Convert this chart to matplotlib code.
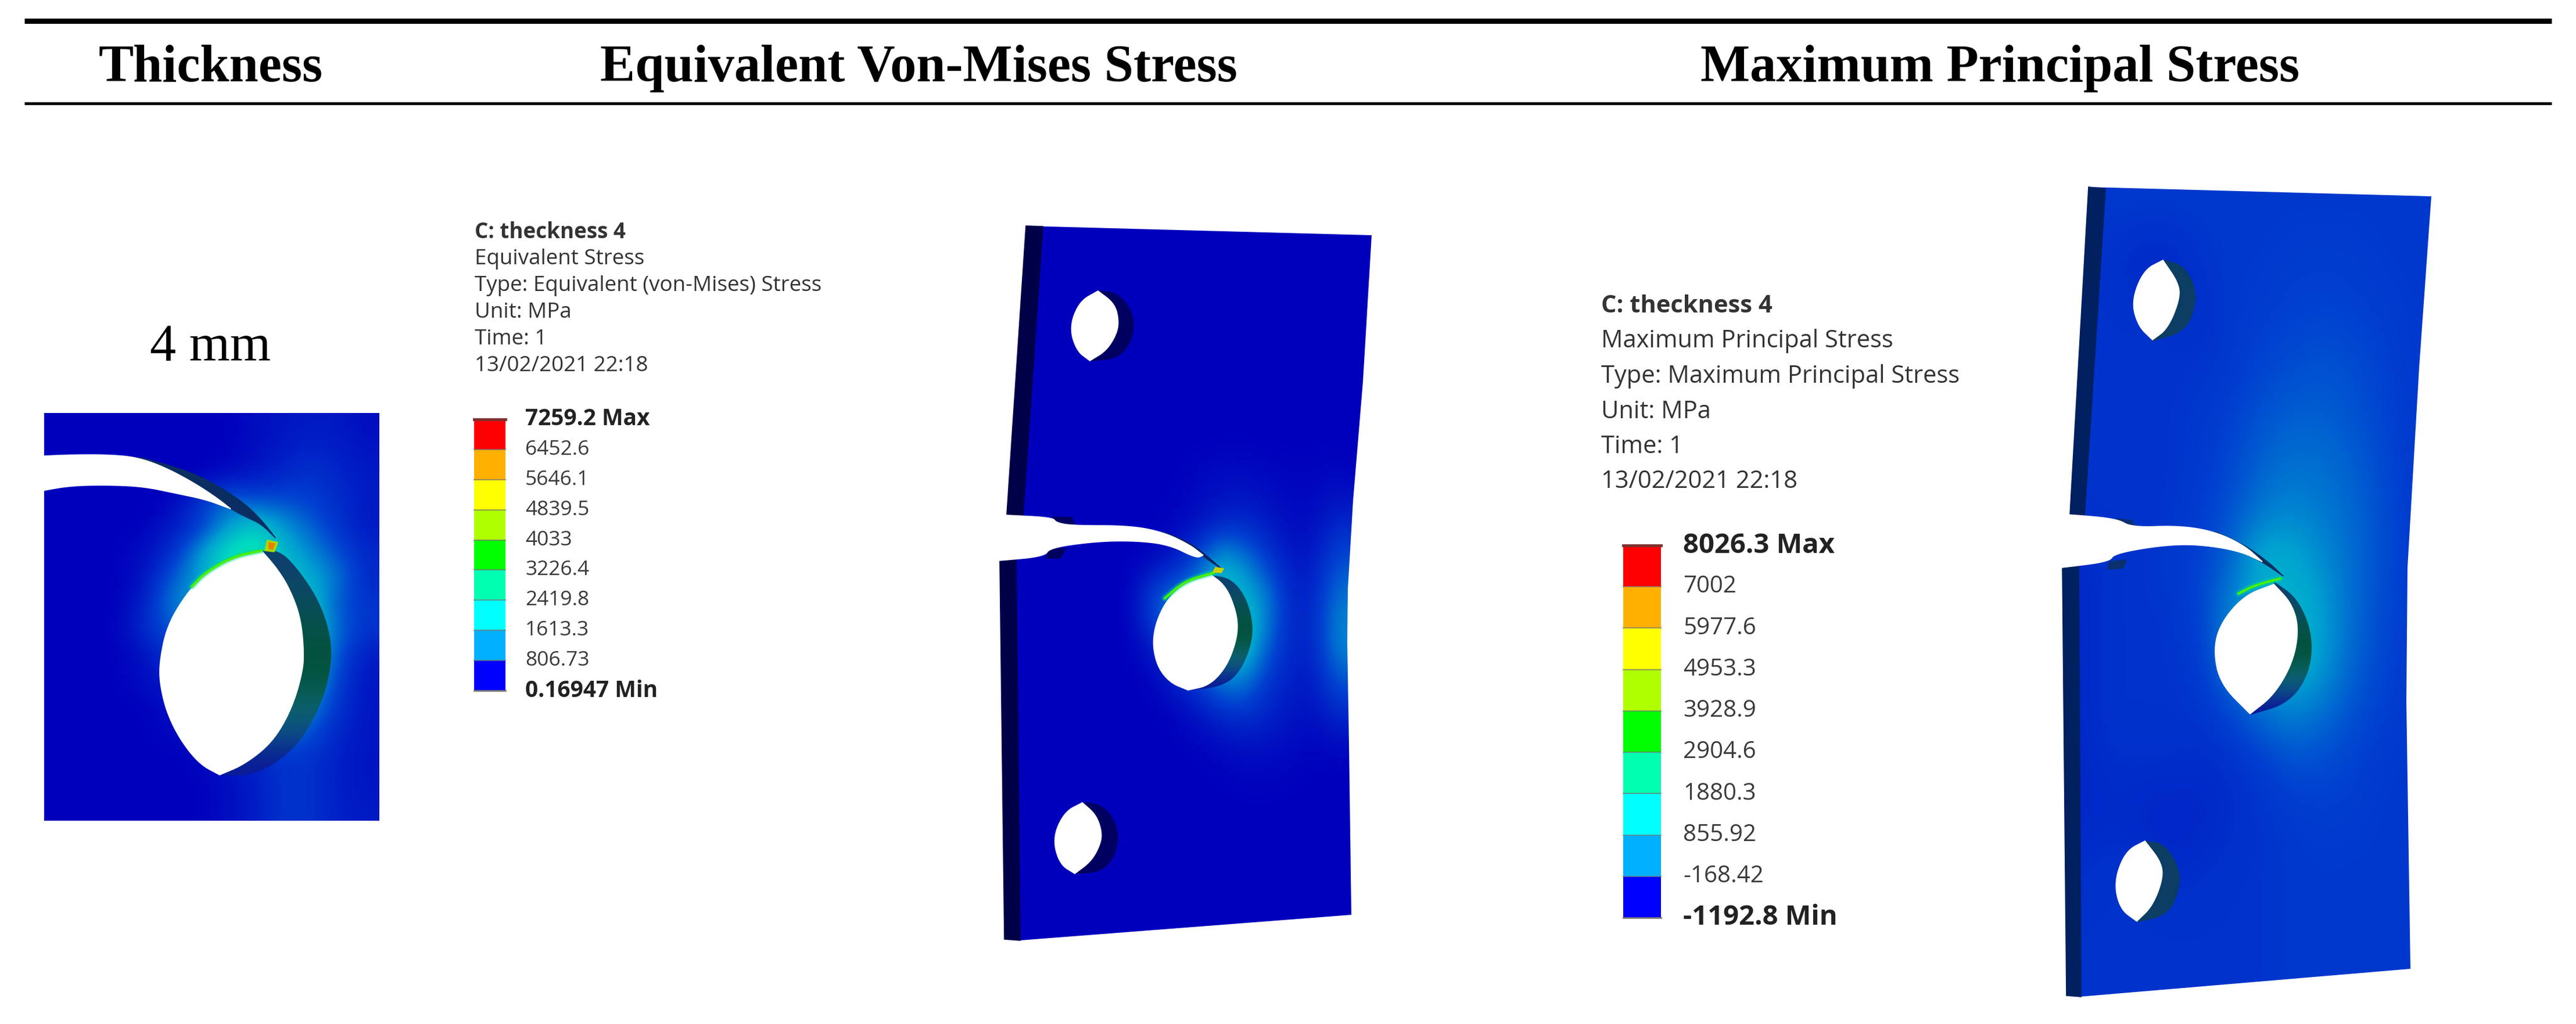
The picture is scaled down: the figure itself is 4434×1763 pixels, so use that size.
import matplotlib
matplotlib.use("Agg")
import matplotlib.pyplot as plt
import numpy as np
from matplotlib.colors import LinearSegmentedColormap, to_rgb
from matplotlib.patches import Polygon

# table text
headers = ["Thickness", "Equivalent Von-Mises Stress", "Maximum Principal Stress"]
header_x = [363, 1581, 3443]
thickness_label = "4 mm"

# contour legends
vm_info = ["C: theckness 4", "Equivalent Stress", "Type: Equivalent (von-Mises) Stress",
           "Unit: MPa", "Time: 1", "13/02/2021 22:18"]
vm_ticks = ["7259.2 Max", "6452.6", "5646.1", "4839.5", "4033", "3226.4", "2419.8",
            "1613.3", "806.73", "0.16947 Min"]
mp_info = ["C: theckness 4", "Maximum Principal Stress", "Type: Maximum Principal Stress",
           "Unit: MPa", "Time: 1", "13/02/2021 22:18"]
mp_ticks = ["8026.3 Max", "7002", "5977.6", "4953.3", "3928.9", "2904.6", "1880.3",
            "855.92", "-168.42", "-1192.8 Min"]
band_colors = ["#ff0000", "#ffb000", "#ffff00", "#b0ff00", "#00ff00",
               "#00ffb0", "#00ffff", "#00b0ff", "#0000ff"]

# stress levels, 0 is the plate blue, 1 the green
crop_levels = [
    [0, 0, 0, 0, 0, 0, 0, .05, .08, .1, .1, .05],
    [0, 0, 0, 0, 0, 0, 0, .05, .1, .15, .12, .08],
    [0, 0, 0, 0, 0, 0, .05, .1, .15, .2, .15, .1],
    [0, 0, 0, 0, 0, .2, .4, .3, .3, .25, .18, .1],
    [0, 0, 0, 0, .1, .2, .45, .7, .5, .35, .2, .1],
    [0, 0, 0, .05, .15, .45, .8, .9, .6, .45, .3, .15],
    [0, 0, 0, .05, .3, .5, .7, .7, .7, .55, .4, .15],
    [0, 0, 0, .1, .4, .5, .6, .7, .7, .65, .3, .2],
    [0, 0, 0, .15, .3, .4, .6, .75, .75, .7, .35, .2],
    [0, 0, 0, .05, .2, .3, .5, .7, .75, .65, .3, .1],
    [0, 0, 0, .05, .1, .2, .4, .6, .6, .55, .25, .08],
    [0, 0, 0, 0, .05, .1, .3, .5, .55, .45, .2, .08],
    [0, 0, 0, 0, .03, .05, .2, .3, .4, .3, .15, .08],
    [0, 0, 0, 0, 0, .02, .1, .15, .2, .2, .12, .08],
    [0, 0, 0, 0, 0, 0, .05, .1, .2, .2, .12, .08],
    [0, 0, 0, 0, 0, 0, .05, .1, .2, .2, .12, .1],
]
vm_levels = [
    [0] * 16, [0] * 16, [0] * 16, [0] * 16, [0] * 16, [0] * 16,
    [0, 0, 0, 0, 0, 0, 0, 0, .03, .06, .06, .04, .02, .02, .05, 0],
    [0, 0, 0, 0, 0, 0, 0, .02, .05, .12, .15, .1, .05, .05, .15, .15],
    [0, 0, 0, 0, 0, 0, .02, .1, .3, .6, .45, .25, .1, .1, .3, .3],
    [0, 0, 0, 0, 0, 0, .3, .5, .5, .6, .6, .45, .15, .15, .4, .4],
    [0, 0, 0, 0, 0, 0, .1, .3, .5, .7, .7, .35, .15, .15, .45, .45],
    [0, 0, 0, 0, 0, 0, 0, .1, .2, .4, .4, .2, .12, .1, .3, .3],
    [0, 0, 0, 0, 0, 0, 0, 0, .05, .1, .15, .12, .08, .05, .12, .12],
    [0, 0, 0, 0, 0, 0, 0, 0, 0, .01, .03, .03, .02, 0, 0, 0],
    [0] * 16, [0] * 16, [0] * 16, [0] * 16,
]
mp_levels = [
    [.2, .22, .22, .22, .22, .22, .22, .22, .22, .22, .22, .22],
    [.2, .2, .15, .15, .2, .22, .22, .24, .24, .24, .22, .22],
    [.2, .2, .2, .2, .18, .22, .24, .25, .26, .25, .24, .22],
    [.2, .2, .2, .2, .2, .22, .26, .28, .3, .28, .25, .22],
    [.2, .2, .2, .2, .22, .25, .3, .33, .33, .3, .26, .22],
    [.2, .2, .2, .2, .22, .27, .34, .38, .37, .33, .27, .22],
    [.2, .2, .2, .2, .24, .3, .4, .44, .4, .35, .28, .22],
    [.15, .2, .2, .22, .25, .35, .6, .55, .45, .36, .28, .22],
    [.15, .2, .2, .2, .25, .45, .5, .6, .5, .35, .27, .22],
    [.15, .2, .2, .2, .22, .4, .5, .6, .48, .33, .26, .22],
    [.15, .2, .2, .2, .2, .25, .35, .4, .35, .28, .24, .22],
    [.15, .18, .18, .18, .17, .18, .22, .28, .27, .25, .22, .22],
    [.15, .17, .15, .14, .15, .18, .2, .22, .24, .23, .22, .22],
    [.18, .2, .2, .17, .18, .2, .2, .22, .22, .22, .22, .22],
    [.2, .2, .2, .2, .2, .2, .2, .22, .22, .22, .22, .22],
    [.2, .2, .2, .2, .2, .2, .2, .22, .22, .22, .22, .22],
]
wall_colors = ["#0e3f6e", "#0b4a62", "#06504e", "#03533f", "#03533f", "#0b6468", "#0c4f86", "#0a1a98"]

# outlines in picture pixels, each shape is a list of arcs that meet at sharp corners
crop_box = [76, 653, 1413, 711]
crop_hole_l = [(450, 948), (402, 958), (354, 985), (316, 1029), (287, 1080), (275, 1138), (275, 1176),
               (287, 1227), (311, 1275), (344, 1316), (378, 1334)]
crop_hole_r = [(378, 1334), (421, 1316), (469, 1278), (502, 1221), (521, 1157), (523, 1119), (517, 1061),
               (497, 1010), (474, 975), (450, 948)]
crop_wall_o = [(450, 948), (483, 948), (517, 985), (550, 1036), (569, 1093), (571, 1144), (555, 1208),
               (521, 1272), (478, 1313), (430, 1336), (378, 1334)]
crop_slit_u = [(40, 787), (76, 785), (124, 783), (191, 783), (239, 788), (287, 806), (335, 832), (373, 857), (397, 876)]
crop_slit_l = [(397, 876), (354, 860), (306, 850), (249, 838), (191, 835), (124, 836), (76, 844), (40, 852)]
crop_lip = [[(239, 787), (287, 800), (335, 816), (383, 841), (421, 867), (450, 895), (474, 926)],
            [(474, 926), (450, 902), (421, 889), (397, 876), (368, 854), (325, 825), (239, 787)]]
crop_edge = [(450, 948), (402, 958), (354, 985), (330, 1010)]
crop_tip = [(460, 930), (478, 934), (472, 950), (456, 948)]
crop_tip_hot = [(463, 934), (473, 936), (469, 946), (463, 944)]

vm_box = [1721, 2361, 1619, 389]
vm_plate = [(1766, 389), (2361, 405), (2346, 657), (2329, 862), (2320, 1014), (2319, 1104),
            (2322, 1282), (2326, 1575), (1756, 1619), (1729, 1617), (1721, 965), (1733, 886)]
vm_band_top = [(1766, 389), (1795, 390), (1761, 887), (1733, 886)]
vm_band_low = [(1721, 965), (1749, 963), (1756, 1619), (1729, 1617)]
vm_slit_u = [(1690, 885), (1733, 887), (1812, 891), (1818, 900), (1847, 905), (1944, 905), (2002, 916), (2048, 938), (2071, 956)]
vm_slit_l = [(2071, 956), (2059, 961), (2013, 938), (1956, 931), (1887, 932), (1807, 943), (1798, 958), (1721, 965), (1690, 967)]
vm_lip = [[(2002, 916), (2048, 934), (2082, 961), (2102, 979)], [(2102, 979), (2071, 958), (2048, 938), (2002, 916)]]
vm_notch = [[(1812, 890), (1845, 891), (1850, 905), (1820, 902)], [(1806, 945), (1835, 944), (1825, 961), (1800, 961)]]
vm_top_hole = [[(1890, 501), (1858, 519), (1841, 563), (1853, 604), (1876, 621)],
               [(1876, 621), (1904, 604), (1921, 577), (1926, 554), (1919, 523), (1890, 501)]]
vm_top_wall = [(1890, 501), (1921, 504), (1944, 528), (1953, 559), (1944, 595), (1921, 617), (1876, 621)]
vm_low_hole = [[(1863, 1382), (1832, 1398), (1812, 1443), (1824, 1488), (1850, 1504)],
               [(1850, 1504), (1878, 1483), (1893, 1456), (1897, 1434), (1887, 1403), (1863, 1382)]]
vm_low_wall = [(1863, 1382), (1893, 1385), (1916, 1407), (1926, 1441), (1916, 1479), (1893, 1501), (1850, 1504)]
vm_mid_l = [(2085, 990), (2036, 1005), (2002, 1041), (1983, 1095), (1990, 1144), (2013, 1175), (2045, 1188)]
vm_mid_r = [(2045, 1188), (2082, 1180), (2111, 1148), (2128, 1104), (2131, 1068), (2119, 1028), (2105, 1005), (2085, 990)]
vm_mid_o = [(2085, 990), (2119, 996), (2145, 1028), (2158, 1077), (2151, 1122), (2128, 1166), (2094, 1184), (2045, 1188)]
vm_edge = [(2090, 986), (2040, 1000), (2005, 1030)]
vm_tip = [(2092, 977), (2106, 979), (2102, 986), (2088, 985)]

mp_box = [3550, 4185, 1716, 322]
mp_plate = [(3595, 322), (4185, 338), (4164, 633), (4144, 977), (4142, 1207), (4149, 1668),
            (3580, 1716), (3557, 1714), (3550, 977), (3563, 886)]
mp_band_top = [(3595, 322), (3624, 325), (3588, 889), (3563, 886)]
mp_band_low = [(3550, 977), (3578, 974), (3582, 1716), (3557, 1714)]
mp_slit_u = [(3530, 885), (3562, 886), (3644, 893), (3669, 908), (3751, 905), (3812, 915), (3863, 939), (3894, 967)]
mp_slit_l = [(3894, 967), (3853, 948), (3782, 937), (3720, 939), (3639, 953), (3631, 967), (3550, 977), (3530, 979)]
mp_lip = [[(3812, 915), (3863, 938), (3905, 968), (3930, 992)], [(3930, 992), (3894, 967), (3853, 948), (3812, 915)]]
mp_notch = [[(3644, 893), (3670, 896), (3675, 908), (3650, 906)], [(3631, 967), (3660, 964), (3655, 978), (3628, 980)]]
mp_top_hole = [[(3723, 448), (3690, 465), (3669, 518), (3680, 561), (3705, 585)],
               [(3705, 585), (3731, 566), (3751, 518), (3751, 489), (3723, 448)]]
mp_top_wall = [(3723, 448), (3756, 456), (3777, 489), (3779, 527), (3761, 570), (3705, 587)]
mp_low_hole = [[(3692, 1448), (3659, 1465), (3639, 1517), (3649, 1565), (3678, 1586)],
               [(3678, 1586), (3705, 1560), (3723, 1513), (3720, 1484), (3692, 1448)]]
mp_low_wall = [(3692, 1448), (3725, 1453), (3751, 1494), (3751, 1532), (3731, 1575), (3678, 1587)]
mp_mid_l = [(3914, 1006), (3863, 1025), (3822, 1073), (3810, 1120), (3822, 1178), (3873, 1229)]
mp_mid_r = [(3873, 1229), (3914, 1197), (3947, 1140), (3957, 1082), (3945, 1039), (3914, 1006)]
mp_mid_o = [(3914, 1001), (3955, 1030), (3981, 1092), (3976, 1159), (3940, 1211), (3873, 1231)]
mp_edge = [(3925, 996), (3880, 1008), (3853, 1022)]

stress_map = LinearSegmentedColormap.from_list(
    "stress", ["#0000bc", "#0040d0", "#00a0d0", "#00dcc0", "#10e040"])


def smooth(points, rounds=3):
    # corner cutting with both end points held, so the cusps stay sharp
    pts = np.array(points, dtype=float)
    for _ in range(rounds):
        a = pts[:-1]
        b = pts[1:]
        cuts = np.empty((len(a) * 2, 2))
        cuts[0::2] = 0.75 * a + 0.25 * b
        cuts[1::2] = 0.25 * a + 0.75 * b
        pts = np.vstack([pts[:1], cuts, pts[-1:]])
    return pts


def outline(arcs):
    return np.vstack([smooth(a) for a in arcs])


fig = plt.figure(figsize=(44.34, 17.63), dpi=100)
ax = fig.add_axes([0, 0, 1, 1])
ax.set_xlim(0, 4434)
ax.set_ylim(1763, 0)
ax.axis("off")


def field(levels, box, clip=None):
    im = ax.imshow(levels, cmap=stress_map, vmin=0, vmax=1, extent=box, aspect="auto",
                   interpolation="bicubic", zorder=1)
    if clip is not None:
        im.set_clip_path(Polygon(clip, closed=True, transform=ax.transData))


def shape(pts, color, z=2):
    ax.add_patch(Polygon(pts, closed=True, fc=color, ec=color, lw=1.2, zorder=z))


def wall(pts, z=3):
    box = [pts[:, 0].min(), pts[:, 0].max(), pts[:, 1].max(), pts[:, 1].min()]
    rgb = np.array([[to_rgb(c)] for c in wall_colors])
    im = ax.imshow(rgb, extent=box, aspect="auto", interpolation="bicubic", zorder=z)
    im.set_clip_path(Polygon(pts, closed=True, transform=ax.transData))


def hot_edge(points, z=5):
    pts = smooth(points)
    for lw, col, a in [(8, "#00e0a0", .3), (4.5, "#10e050", .6), (2.5, "#50f000", 1)]:
        ax.plot(pts[:, 0], pts[:, 1], color=col, lw=lw, alpha=a, solid_capstyle="round", zorder=z)


def legend(info, ticks, x, y0, dy, size, bar_x, bar_w, bar_top, bar_bot, tick_x, tick_size, bold_size):
    for i, s in enumerate(info):
        ax.text(x, y0 + i * dy, s, family="Open Sans", fontsize=size, color="#333333",
                weight="bold" if i == 0 else "normal", va="center", ha="left")
    edges = np.linspace(bar_top, bar_bot, len(band_colors) + 1)
    for i, c in enumerate(band_colors):
        ax.fill_between([bar_x, bar_x + bar_w], edges[i], edges[i + 1], color=c, lw=0, zorder=2)
        ax.plot([bar_x, bar_x + bar_w], [edges[i], edges[i]], color="#777777", lw=1.5, alpha=.7, zorder=3)
    ax.plot([bar_x, bar_x + bar_w], [bar_top, bar_top], color="#803030", lw=3.5, zorder=3)
    ax.plot([bar_x, bar_x + bar_w], [bar_bot, bar_bot], color="#777777", lw=2, zorder=3)
    for i, s in enumerate(ticks):
        bold = i == 0 or i == len(ticks) - 1
        ax.text(tick_x, edges[i], s, family="Open Sans", fontsize=bold_size if bold else tick_size,
                color="#222222" if bold else "#3a3a3a", weight="bold" if bold else "normal",
                va="center", ha="left")


# table rules and heading
ax.plot([42, 4392], [35.5, 35.5], color="black", lw=6.5, solid_capstyle="butt")
ax.plot([42, 4392], [177.5, 177.5], color="black", lw=3.6, solid_capstyle="butt")
for s, x in zip(headers, header_x):
    ax.text(x, 140, s, family="Liberation Serif", weight="bold", fontsize=65, ha="center", va="baseline", color="black")
ax.text(362, 621, thickness_label, family="Liberation Serif", fontsize=65, ha="center", va="baseline", color="black")

# thickness crop
field(crop_levels, crop_box)
wall(outline([crop_wall_o, crop_hole_r]))
shape(outline(crop_lip), "#0a2e62", z=3)
shape(outline([crop_slit_u, crop_slit_l]), "white", z=3)
shape(outline([crop_hole_l, crop_hole_r]), "white", z=4)
hot_edge(crop_edge)
shape(crop_tip, "#a8d800", z=6)
shape(crop_tip_hot, "#e88000", z=7)

# von-mises plate
field(vm_levels, vm_box, clip=vm_plate)
shape(vm_band_top, "#000048")
shape(vm_band_low, "#000048")
shape(outline([vm_top_wall, vm_top_hole[1]]), "#000060", z=3)
shape(outline([vm_low_wall, vm_low_hole[1]]), "#000060", z=3)
for n in vm_notch:
    shape(n, "#000060", z=3)
shape(outline(vm_lip), "#0a2560", z=3)
wall(outline([vm_mid_o, vm_mid_r]))
shape(outline([vm_slit_u, vm_slit_l]), "white", z=4)
shape(outline(vm_top_hole), "white", z=4)
shape(outline(vm_low_hole), "white", z=4)
shape(outline([vm_mid_l, vm_mid_r]), "white", z=4)
hot_edge(vm_edge)
shape(vm_tip, "#c8d000", z=6)

# principal stress plate
field(mp_levels, mp_box, clip=mp_plate)
shape(mp_band_top, "#002060")
shape(mp_band_low, "#002060")
shape(outline([mp_top_wall, mp_top_hole[1]]), "#0c3d63", z=3)
shape(outline([mp_low_wall, mp_low_hole[1]]), "#0c3d63", z=3)
for n in mp_notch:
    shape(n, "#0a3070", z=3)
shape(outline(mp_lip), "#0a3060", z=3)
wall(outline([mp_mid_o, mp_mid_r]))
shape(outline([mp_slit_u, mp_slit_l]), "white", z=4)
shape(outline(mp_top_hole), "white", z=4)
shape(outline(mp_low_hole), "white", z=4)
shape(outline([mp_mid_l, mp_mid_r]), "white", z=4)
hot_edge(mp_edge)

legend(vm_info, vm_ticks, 817, 400, 46, 26.5, 816, 54, 722, 1189, 904, 25.5, 28)
legend(mp_info, mp_ticks, 2756, 527, 60.5, 30, 2794, 65, 939, 1580, 2897, 29, 34)

ax.set_xlim(0, 4434)
ax.set_ylim(1763, 0)
fig.savefig("out.png", dpi=100, facecolor="white")
